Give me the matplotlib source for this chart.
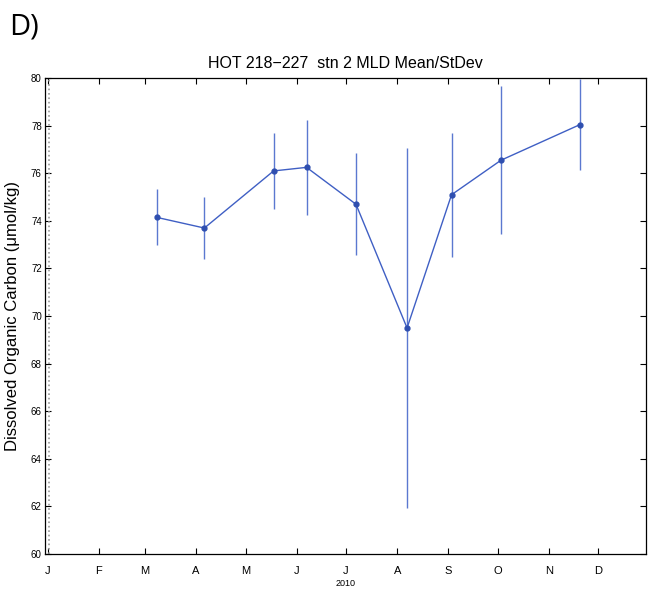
import matplotlib.pyplot as plt

plt.rcParams['font.family'] = ['Liberation Sans', 'DejaVu Sans']

# day of year 2010 (0 = Jan 1)
days = [66, 95, 137, 157, 187, 218, 245, 275, 323]
doc_mean = [74.15, 73.7, 76.1, 76.25, 74.7, 69.5, 75.1, 76.55, 78.05]
doc_std = [1.17, 1.3, 1.6, 2.0, 2.15, 7.55, 2.6, 3.1, 1.9]

month_starts = [0, 31, 59, 90, 120, 151, 181, 212, 243, 273, 304, 334]
month_labels = ['J', 'F', 'M', 'A', 'M', 'J', 'J', 'A', 'S', 'O', 'N', 'D']
y_ticks = list(range(60, 81, 2))

fig = plt.figure(figsize=(6.52, 5.92), dpi=100)
ax = fig.add_axes([0.0683, 0.0642, 0.9225, 0.8038])

line_color = '#3f5fc4'
ax.axvline(0.5, color='#999999', linestyle=':', linewidth=1.2)
ax.errorbar(days, doc_mean, yerr=doc_std, color=line_color, ecolor='#5b78d0',
            elinewidth=1.0, linewidth=1.0, marker='o', markersize=3.5,
            markerfacecolor='#2f4fb0', markeredgecolor='#2f4fb0', capsize=0)

ax.set_xlim(-2, 363)
ax.set_ylim(60, 80)
ax.set_xticks(month_starts)
ax.set_xticklabels(month_labels, fontsize=8)
ax.set_yticks(y_ticks)
ax.set_yticklabels([str(v) for v in y_ticks], fontsize=7)
ax.tick_params(direction='in', top=True, right=True, length=4, width=0.8)
ax.tick_params(axis='x', pad=9)
ax.tick_params(axis='y', pad=2)
for sp in ax.spines.values():
    sp.set_linewidth(0.9)

ax.set_xlabel('2010', fontsize=6.5, labelpad=2)
ax.set_ylabel('Dissolved Organic Carbon (\u03bcmol/kg)', fontsize=12, labelpad=8)
ax.set_title('HOT 218\u2212227  stn 2 MLD Mean/StDev', fontsize=11.5, pad=7)

fig.text(0.014, 0.93, 'D)', fontsize=21, ha='left', va='bottom',
         family=['Open Sans', 'DejaVu Sans'])

fig.savefig('out.png', dpi=100)
